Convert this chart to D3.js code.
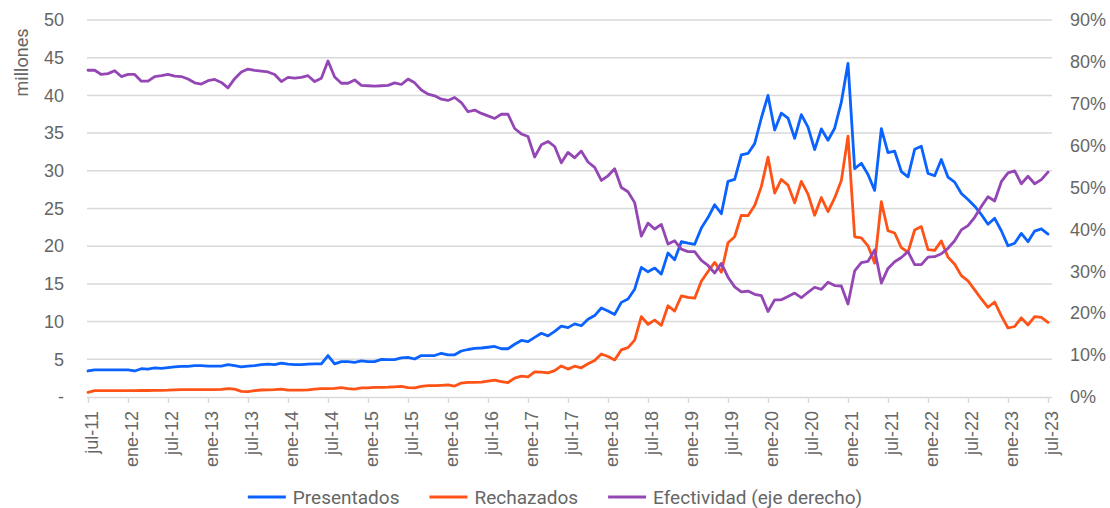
<!DOCTYPE html>
<html>
<head>
<meta charset="utf-8">
<script src="https://cdn.jsdelivr.net/npm/d3@7"></script>
<style>
  html, body { margin: 0; padding: 0; background: #fff; }
  svg { display: block; font-family: Roboto, "Noto Sans", sans-serif; }
  .grid line { stroke: #d9d9d9; stroke-width: 1.5; }
  .lbl { fill: #666; font-size: 18px; }
  .legend text { font-size: 19px; }
</style>
</head>
<body>
<div id="chart"></div>
<script>
// Meses jul-11 .. jul-23 (145 observaciones mensuales)
const MONTHS = ['ene', 'feb', 'mar', 'abr', 'may', 'jun', 'jul', 'ago', 'sep', 'oct', 'nov', 'dic'];
const categories = d3.range(145).map(i => {
  const m = 6 + i;
  return `${MONTHS[m % 12]}-${11 + Math.floor(m / 12)}`;
});
const tickLabels = categories.filter((d, i) => i % 6 === 0);

// millones
const presentados = [
  3.45, 3.6, 3.6, 3.6, 3.6, 3.6, 3.6, 3.45, 3.75, 3.7, 3.85, 3.8, 3.9, 4.0, 4.05, 4.05, 4.15, 4.15, 4.1, 4.1,
  4.1, 4.3, 4.15, 4.0, 4.1, 4.15, 4.3, 4.37, 4.3, 4.5, 4.37, 4.3, 4.3, 4.37, 4.4, 4.4, 5.5, 4.4, 4.7, 4.7,
  4.6, 4.8, 4.7, 4.7, 5.0, 4.95, 4.95, 5.2, 5.25, 5.04, 5.5, 5.5, 5.5, 5.8, 5.6, 5.6, 6.1, 6.3, 6.45, 6.5,
  6.6, 6.7, 6.4, 6.4, 7.0, 7.5, 7.35, 7.9, 8.45, 8.1, 8.7, 9.4, 9.2, 9.7, 9.45, 10.3, 10.8, 11.8, 11.4, 10.95,
  12.55, 13.0, 14.3, 17.2, 16.6, 17.1, 16.3, 19.1, 18.2, 20.6, 20.4, 20.25, 22.4, 23.8, 25.5, 24.3, 28.6, 28.85, 32.1, 32.3,
  33.6, 37.0, 40.0, 35.4, 37.65, 37.0, 34.3, 37.45, 35.8, 32.8, 35.55, 34.05, 35.65, 39.1, 44.25, 30.3, 31.0, 29.5, 27.4, 35.6,
  32.4, 32.6, 29.9, 29.2, 32.85, 33.25, 29.65, 29.35, 31.5, 29.15, 28.5, 27.0, 26.2, 25.3, 24.2, 22.9, 23.7, 22.05, 20.05, 20.4,
  21.7, 20.6, 22.0, 22.3, 21.6
];

const rechazados = [
  0.6, 0.84, 0.84, 0.84, 0.85, 0.85, 0.85, 0.85, 0.86, 0.86, 0.87, 0.88, 0.9, 0.95, 0.97, 0.97, 0.97, 0.97, 0.97, 0.98,
  1.0, 1.1, 1.05, 0.75, 0.72, 0.84, 0.93, 0.95, 0.97, 1.05, 0.9, 0.9, 0.9, 0.95, 1.05, 1.1, 1.1, 1.15, 1.25, 1.1,
  1.05, 1.2, 1.2, 1.28, 1.28, 1.3, 1.35, 1.4, 1.25, 1.2, 1.4, 1.5, 1.5, 1.55, 1.6, 1.45, 1.85, 1.95, 1.95, 1.97,
  2.1, 2.25, 2.05, 1.92, 2.5, 2.76, 2.68, 3.33, 3.3, 3.2, 3.5, 4.12, 3.7, 4.08, 3.87, 4.4, 4.85, 5.7, 5.37, 4.92,
  6.25, 6.55, 7.55, 10.65, 9.65, 10.2, 9.5, 12.1, 11.4, 13.4, 13.2, 13.1, 15.35, 16.65, 17.85, 16.55, 20.45, 21.25, 24.1, 24.05,
  25.4, 27.9, 31.8, 27.05, 28.85, 28.1, 25.75, 28.6, 26.9, 24.1, 26.45, 24.6, 26.4, 28.7, 34.6, 21.25, 21.1, 20.05, 17.75, 25.9,
  22.05, 21.75, 19.8, 19.2, 22.15, 22.6, 19.55, 19.45, 20.7, 18.55, 17.6, 16.1, 15.4, 14.2, 13.0, 11.9, 12.6, 10.75, 9.15, 9.35,
  10.5, 9.55, 10.65, 10.55, 9.9
];

// porcentaje (eje derecho)
const efectividad = [
  78.0, 78.0, 77.0, 77.2, 77.9, 76.5, 77.0, 77.0, 75.4, 75.4, 76.5, 76.7, 77.0, 76.6, 76.5, 75.9, 75.0, 74.7, 75.5, 75.8,
  75.1, 73.8, 76.0, 77.6, 78.3, 78.0, 77.8, 77.6, 77.0, 75.3, 76.3, 76.1, 76.3, 76.7, 75.3, 76.1, 80.2, 76.4, 74.9, 74.9,
  75.7, 74.4, 74.3, 74.2, 74.3, 74.4, 75.0, 74.6, 75.9, 75.0, 73.3, 72.3, 71.9, 71.1, 70.8, 71.5, 70.3, 68.1, 68.5, 67.7,
  67.1, 66.5, 67.5, 67.5, 64.1, 62.8, 62.2, 57.3, 60.2, 61.0, 59.8, 55.9, 58.4, 57.1, 58.7, 56.1, 54.8, 51.7, 52.8, 54.5,
  50.0, 49.0, 46.4, 38.4, 41.5, 40.1, 41.2, 36.5, 37.3, 35.3, 34.7, 34.7, 32.6, 31.4, 29.6, 31.9, 28.6, 26.3, 25.1, 25.3,
  24.5, 24.2, 20.4, 23.2, 23.2, 24.0, 24.8, 23.7, 25.0, 26.2, 25.7, 27.4, 26.6, 26.5, 22.2, 30.1, 32.1, 32.4, 35.1, 27.2,
  30.7, 32.3, 33.3, 34.7, 31.6, 31.6, 33.4, 33.5, 34.2, 35.5, 37.3, 39.9, 40.9, 42.9, 45.5, 47.8, 46.8, 51.4, 53.5, 54.0,
  50.9, 52.7, 50.9, 51.9, 53.7
];

const leftTicks = d3.range(0, 51, 5);
const rightTicks = d3.range(0, 91, 10);

const series = [
  { name: 'Presentados', values: presentados, color: '#0a62ff', axis: 'left' },
  { name: 'Rechazados', values: rechazados, color: '#ff5216', axis: 'left' },
  { name: 'Efectividad (eje derecho)', values: efectividad, color: '#9446b4', axis: 'right' },
];

const width = 1110, height = 508;
const plot = { left: 87, right: 1052, top: 20, bottom: 397 };

const svg = d3.select('#chart').append('svg')
  .attr('width', width)
  .attr('height', height);

const x = d3.scalePoint().domain(categories).range([88, 1048]);
const y = d3.scaleLinear().domain([0, 50]).range([plot.bottom, plot.top]);
const y2 = d3.scaleLinear().domain([0, 90]).range([plot.bottom, plot.top]);

// --- rejilla horizontal (sigue al eje izquierdo) ---
svg.append('g').attr('class', 'grid')
  .selectAll('line')
  .data(leftTicks.filter(d => d > 0))
  .join('line')
  .attr('x1', plot.left).attr('x2', plot.right)
  .attr('y1', d => y(d)).attr('y2', d => y(d));

// --- eje izquierdo ---
const yAxis = svg.append('g')
  .attr('transform', `translate(${plot.left - 23},0)`)
  .call(d3.axisLeft(y).tickValues(leftTicks).tickSize(0).tickPadding(0)
    .tickFormat(d => d === 0 ? '-' : d));
yAxis.select('.domain').remove();
yAxis.selectAll('text').attr('class', 'lbl').attr('fill', null);

svg.append('text')
  .attr('class', 'lbl')
  .attr('transform', `translate(28,${(plot.top + 105) / 2}) rotate(-90)`)
  .attr('text-anchor', 'middle')
  .text('millones');

// --- eje derecho ---
const y2Axis = svg.append('g')
  .attr('transform', `translate(${plot.right + 18},0)`)
  .call(d3.axisRight(y2).tickValues(rightTicks).tickSize(0).tickPadding(0)
    .tickFormat(d => `${d}%`));
y2Axis.select('.domain').remove();
y2Axis.selectAll('text').attr('class', 'lbl').attr('fill', null);

// --- eje x ---
const xAxis = svg.append('g')
  .attr('transform', `translate(0,${plot.bottom})`)
  .call(d3.axisBottom(x).tickValues(tickLabels).tickSize(6).tickSizeOuter(0));
xAxis.select('.domain')
  .attr('d', `M${plot.left},0.5H${plot.right}`)
  .attr('stroke', '#d9d9d9').attr('stroke-width', 1.5);
xAxis.selectAll('.tick line').attr('stroke', '#d9d9d9').attr('stroke-width', 1.5);
xAxis.selectAll('.tick text')
  .attr('class', 'lbl').attr('fill', null)
  .attr('transform', 'rotate(-90)')
  .attr('text-anchor', 'end')
  .attr('x', -14).attr('y', 0).attr('dy', '0.5em');

// --- líneas ---
const lines = svg.append('g').attr('fill', 'none')
  .attr('stroke-width', 2.8)
  .attr('stroke-linejoin', 'round')
  .attr('stroke-linecap', 'round');

for (const s of series) {
  const ys = s.axis === 'left' ? y : y2;
  lines.append('path')
    .datum(s.values)
    .attr('stroke', s.color)
    .attr('d', d3.line().x((d, i) => x(categories[i])).y(d => ys(d)));
}

// --- leyenda ---
const legend = svg.append('g').attr('class', 'legend').attr('transform', 'translate(0,497)');
const items = legend.selectAll('g').data(series).join('g');
items.append('line')
  .attr('x1', 0).attr('x2', 38)
  .attr('stroke', d => d.color).attr('stroke-width', 3);
items.append('text')
  .attr('class', 'lbl')
  .attr('x', 45).attr('dy', '0.35em')
  .text(d => d.name);

const gap = 30;
const widths = items.nodes().map(n => 45 + n.querySelector('text').getComputedTextLength());
const total = d3.sum(widths) + gap * (widths.length - 1);
let cx = 555 - total / 2;
items.attr('transform', (d, i) => {
  const t = `translate(${cx},0)`;
  cx += widths[i] + gap;
  return t;
});
</script>
</body>
</html>
